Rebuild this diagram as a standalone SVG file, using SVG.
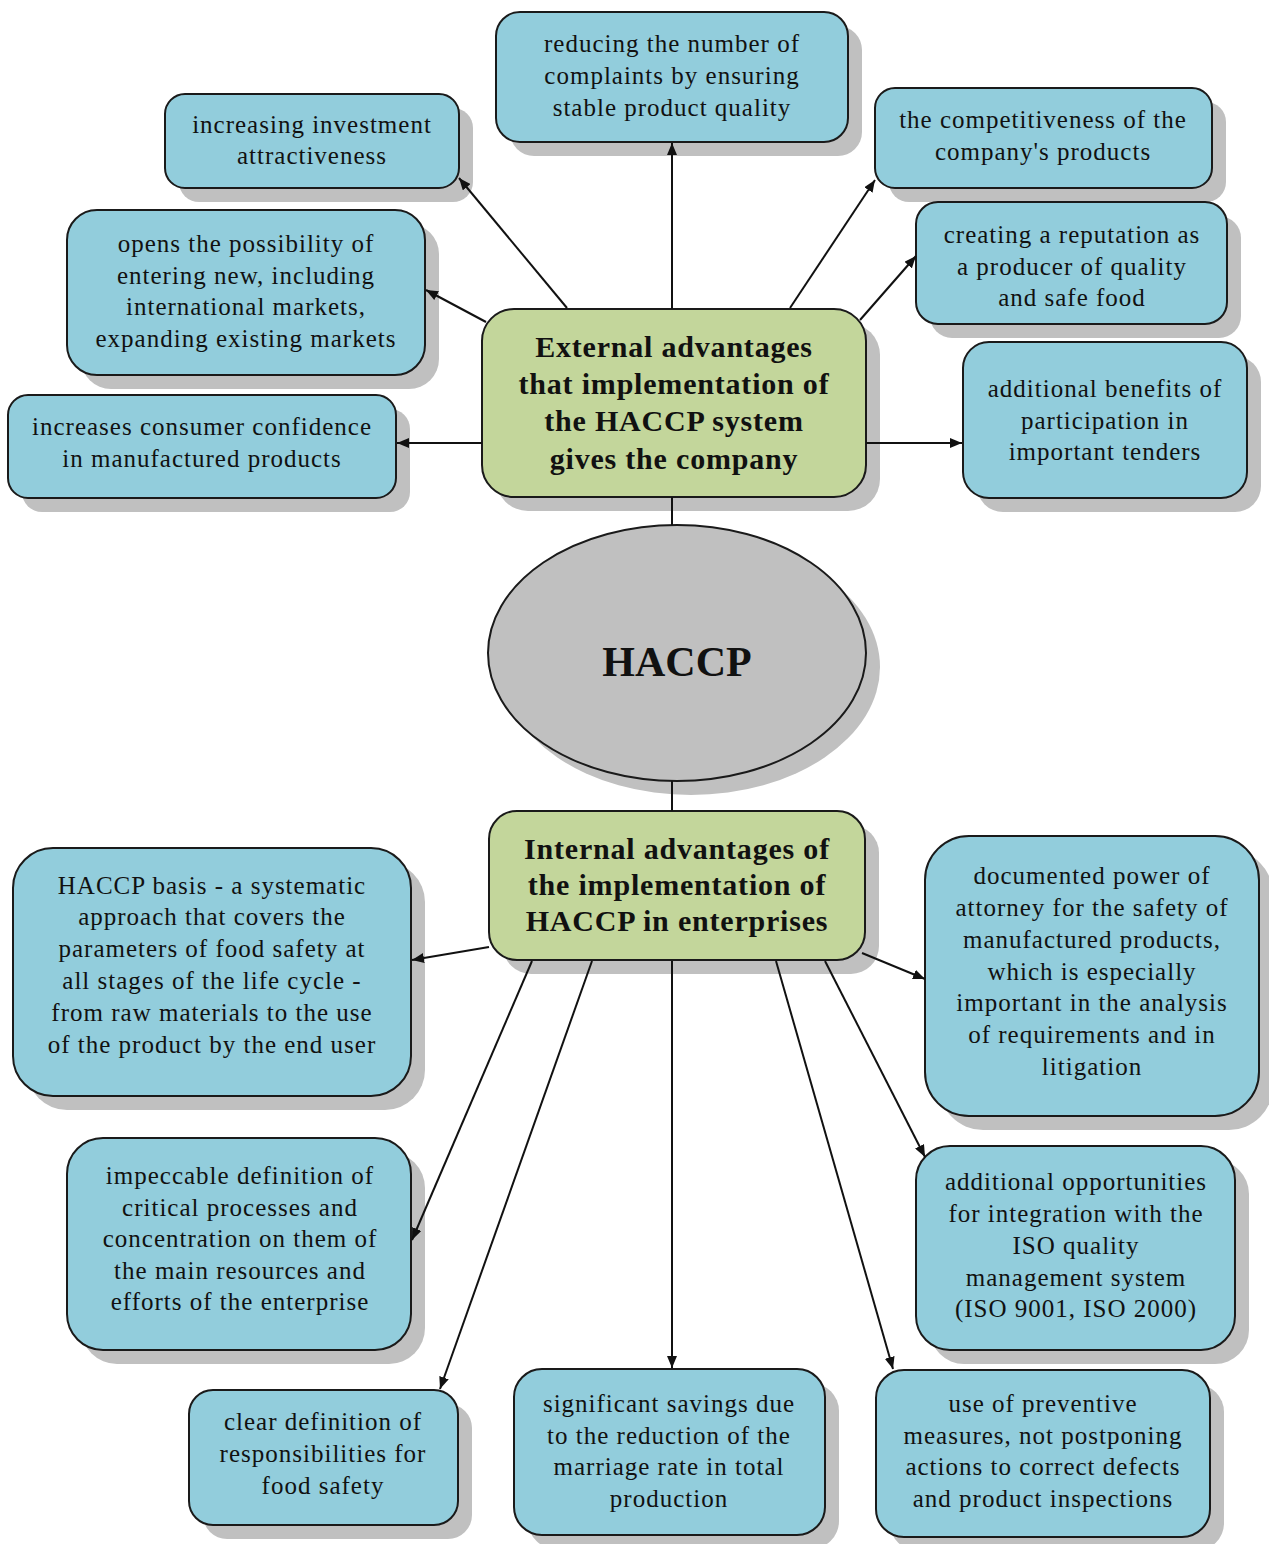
<svg xmlns="http://www.w3.org/2000/svg" width="1269" height="1544" viewBox="0 0 1269 1544">
<defs>
<style>
.sh{fill:#c0c0c0;stroke:none}
.b{fill:#92cddc;stroke:#1a1a1a;stroke-width:2}
.g{fill:#c3d69b;stroke:#1a1a1a;stroke-width:2}
.c{stroke:#111;stroke-width:2;fill:none}
.a{stroke:#111;stroke-width:2;fill:none;marker-end:url(#ar)}
</style>
<marker id="ar" viewBox="0 0 12 10" refX="12" refY="5" markerWidth="12" markerHeight="10" markerUnits="userSpaceOnUse" orient="auto">
<path d="M0,0 L12,5 L0,10 z" fill="#111"/>
</marker>
</defs>
<rect width="1269" height="1544" fill="#fff"/>

<g font-family="Liberation Serif, serif" font-size="25" letter-spacing="1" text-anchor="middle" fill="#111">

<g id="n-reducing">
<rect class="sh" x="510" y="26" width="352" height="130" rx="24"/>
<rect class="b" x="496" y="12" width="352" height="130" rx="24"/>
<text x="672" y="52">reducing the number of</text>
<text x="672" y="84">complaints by ensuring</text>
<text x="672" y="116">stable product quality</text>
</g>

<g id="n-investment">
<rect class="sh" x="179" y="108" width="294" height="94" rx="20"/>
<rect class="b" x="165" y="94" width="294" height="94" rx="20"/>
<text x="312" y="133">increasing investment</text>
<text x="312" y="164">attractiveness</text>
</g>

<g id="n-opens">
<rect class="sh" x="81" y="224" width="358" height="165" rx="30"/>
<rect class="b" x="67" y="210" width="358" height="165" rx="30"/>
<text x="246" y="252">opens the possibility of</text>
<text x="246" y="284">entering new, including</text>
<text x="246" y="315">international markets,</text>
<text x="246" y="347">expanding existing markets</text>
</g>

<g id="n-confidence">
<rect class="sh" x="22" y="409" width="388" height="103" rx="20"/>
<rect class="b" x="8" y="395" width="388" height="103" rx="20"/>
<text x="202" y="435">increases consumer confidence</text>
<text x="202" y="467">in manufactured products</text>
</g>

<g id="n-competitiveness">
<rect class="sh" x="889" y="102" width="337" height="100" rx="20"/>
<rect class="b" x="875" y="88" width="337" height="100" rx="20"/>
<text x="1043" y="128">the competitiveness of the</text>
<text x="1043" y="160">company's products</text>
</g>

<g id="n-reputation">
<rect class="sh" x="930" y="216" width="311" height="122" rx="22"/>
<rect class="b" x="916" y="202" width="311" height="122" rx="22"/>
<text x="1072" y="243">creating a reputation as</text>
<text x="1072" y="275">a producer of quality</text>
<text x="1072" y="306">and safe food</text>
</g>

<g id="n-tenders">
<rect class="sh" x="977" y="356" width="284" height="156" rx="26"/>
<rect class="b" x="963" y="342" width="284" height="156" rx="26"/>
<text x="1105" y="397">additional benefits of</text>
<text x="1105" y="429">participation in</text>
<text x="1105" y="460">important tenders</text>
</g>

<g id="n-external" font-size="30" font-weight="bold" letter-spacing="0.8">
<rect class="sh" x="496" y="323" width="384" height="188" rx="32"/>
<rect class="g" x="482" y="309" width="384" height="188" rx="32"/>
<text x="674" y="357">External advantages</text>
<text x="674" y="394">that implementation of</text>
<text x="674" y="431">the HACCP system</text>
<text x="674" y="469">gives the company</text>
</g>

<g id="n-haccp">
<ellipse class="sh" cx="691" cy="667" rx="189" ry="128"/>
<ellipse cx="677" cy="653" rx="189" ry="128" fill="#c0c0c0" stroke="#1a1a1a" stroke-width="2"/>
<text x="677" y="676" font-size="42" font-weight="bold" letter-spacing="0">HACCP</text>
</g>

<g id="n-internal" font-size="30" font-weight="bold" letter-spacing="0.8">
<rect class="sh" x="503" y="825" width="376" height="149" rx="28"/>
<rect class="g" x="489" y="811" width="376" height="149" rx="28"/>
<text x="677" y="859">Internal advantages of</text>
<text x="677" y="895">the implementation of</text>
<text x="677" y="931">HACCP in enterprises</text>
</g>

<g id="n-basis">
<rect class="sh" x="27" y="862" width="398" height="248" rx="40"/>
<rect class="b" x="13" y="848" width="398" height="248" rx="40"/>
<text x="212" y="894">HACCP basis - a systematic</text>
<text x="212" y="925">approach that covers the</text>
<text x="212" y="957">parameters of food safety at</text>
<text x="212" y="989">all stages of the life cycle -</text>
<text x="212" y="1021">from raw materials to the use</text>
<text x="212" y="1053">of the product by the end user</text>
</g>

<g id="n-documented">
<rect class="sh" x="939" y="850" width="334" height="280" rx="44"/>
<rect class="b" x="925" y="836" width="334" height="280" rx="44"/>
<text x="1092" y="884">documented power of</text>
<text x="1092" y="916">attorney for the safety of</text>
<text x="1092" y="948">manufactured products,</text>
<text x="1092" y="980">which is especially</text>
<text x="1092" y="1011">important in the analysis</text>
<text x="1092" y="1043">of requirements and in</text>
<text x="1092" y="1075">litigation</text>
</g>

<g id="n-impeccable">
<rect class="sh" x="81" y="1152" width="344" height="212" rx="36"/>
<rect class="b" x="67" y="1138" width="344" height="212" rx="36"/>
<text x="240" y="1184">impeccable definition of</text>
<text x="240" y="1216">critical processes and</text>
<text x="240" y="1247">concentration on them of</text>
<text x="240" y="1279">the main resources and</text>
<text x="240" y="1310">efforts of the enterprise</text>
</g>

<g id="n-opportunities">
<rect class="sh" x="930" y="1160" width="319" height="204" rx="34"/>
<rect class="b" x="916" y="1146" width="319" height="204" rx="34"/>
<text x="1076" y="1190">additional opportunities</text>
<text x="1076" y="1222">for integration with the</text>
<text x="1076" y="1254">ISO quality</text>
<text x="1076" y="1286">management system</text>
<text x="1076" y="1317">(ISO 9001, ISO 2000)</text>
</g>

<g id="n-responsibilities">
<rect class="sh" x="203" y="1404" width="269" height="135" rx="24"/>
<rect class="b" x="189" y="1390" width="269" height="135" rx="24"/>
<text x="323" y="1430">clear definition of</text>
<text x="323" y="1462">responsibilities for</text>
<text x="323" y="1494">food safety</text>
</g>

<g id="n-savings">
<rect class="sh" x="528" y="1383" width="311" height="166" rx="28"/>
<rect class="b" x="514" y="1369" width="311" height="166" rx="28"/>
<text x="669" y="1412">significant savings due</text>
<text x="669" y="1444">to the reduction of the</text>
<text x="669" y="1475">marriage rate in total</text>
<text x="669" y="1507">production</text>
</g>

<g id="n-preventive">
<rect class="sh" x="890" y="1384" width="334" height="167" rx="28"/>
<rect class="b" x="876" y="1370" width="334" height="167" rx="28"/>
<text x="1043" y="1412">use of preventive</text>
<text x="1043" y="1444">measures, not postponing</text>
<text x="1043" y="1475">actions to correct defects</text>
<text x="1043" y="1507">and product inspections</text>
</g>

</g>

<g id="connectors">
<line class="a" x1="672" y1="309" x2="672" y2="143"/>
<line class="a" x1="567" y1="308" x2="459" y2="178"/>
<line class="a" x1="486" y1="322" x2="426" y2="290"/>
<line class="a" x1="482" y1="443" x2="397" y2="443"/>
<line class="a" x1="790" y1="308" x2="875" y2="180"/>
<line class="a" x1="860" y1="320" x2="916" y2="256"/>
<line class="a" x1="866" y1="443" x2="962" y2="443"/>
<line class="c" x1="672" y1="497" x2="672" y2="525"/>
<line class="c" x1="672" y1="781" x2="672" y2="811"/>
<line class="a" x1="489" y1="947" x2="412" y2="960"/>
<line class="a" x1="532" y1="961" x2="412" y2="1240"/>
<line class="a" x1="592" y1="961" x2="440" y2="1389"/>
<line class="a" x1="672" y1="961" x2="672" y2="1368"/>
<line class="a" x1="776" y1="961" x2="893" y2="1369"/>
<line class="a" x1="825" y1="961" x2="925" y2="1157"/>
<line class="a" x1="862" y1="953" x2="925" y2="979"/>
</g>
</svg>
